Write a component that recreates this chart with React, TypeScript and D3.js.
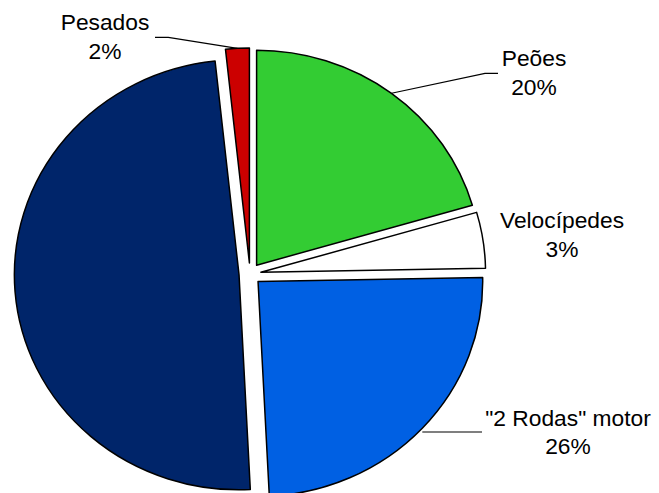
import React from "react";
import * as d3 from "d3";

// Data
const categories = ["Peões", "Velocípedes", "\"2 Rodas\" motor", "Ligeiros", "Pesados"];
const shares = [20.5, 4.2, 24.5, 49.1, 1.7]; // slice sizes as drawn
const percentLabels = ["20%", "3%", "26%", "", "2%"];
const colors = ["#33CC33", "#FFFFFF", "#0060E3", "#00256A", "#CC0000"];
const showLabel = [true, true, true, false, true];

const W = 659;
const H = 493;

export default function App() {
  const cx = 250;
  const cy = 274;
  const ry = 215;
  const sx = 1.045;
  const explode = 11;
  const fontSize = 21.5;
  const lineGap = 29;

  const pie = d3
    .pie<number>()
    .sort(null)
    .value((d) => d)
    .startAngle(0)
    .endAngle(2 * Math.PI);
  const arcs = pie(shares);
  const arcGen = d3.arc<d3.PieArcDatum<number>>().innerRadius(0).outerRadius(ry);

  // label layout: text centre x, first baseline y, optional elbow point
  const labelLayout: Record<number, { tx: number; ty: number; elbow?: [number, number]; end?: [number, number] }> = {
    0: { tx: 534, ty: 66, elbow: [485, 73.3], end: [498, 73.3] },
    1: { tx: 562, ty: 228 },
    2: { tx: 568, ty: 425.5, end: [482, 432] },
    4: { tx: 105, ty: 30, elbow: [168.3, 37.3], end: [155, 37.3] },
  };

  const slices = arcs.map((a, i) => {
    const b = (a.startAngle + a.endAngle) / 2;
    const ox = explode * Math.sin(b);
    const oy = -explode * Math.cos(b);
    const px = cx + ox;
    const py = cy + oy;
    // point on arc at bisector, in screen space
    const ax = px + ry * sx * Math.sin(b);
    const ay = py - ry * Math.cos(b);
    return { a, i, px, py, ax, ay };
  });

  return (
    <svg width={W} height={H} style={{ position: "absolute", left: 0, top: 0, background: "#fff" }}>
      <g>
        {slices.map(({ a, i, px, py }) => (
          <path
            key={i}
            d={arcGen(a) || ""}
            transform={`translate(${px},${py}) scale(${sx},1)`}
            fill={colors[i]}
            stroke="#000"
            strokeWidth={1.5}
            strokeLinejoin="round"
            vectorEffect="non-scaling-stroke"
          />
        ))}
      </g>
      <g fill="none" stroke="#000" strokeWidth={1.2}>
        {slices.map(({ i, ax, ay }) => {
          const L = labelLayout[i];
          if (!L || !L.end || !showLabel[i]) return null;
          const pts: [number, number][] = [[ax, ay]];
          if (L.elbow) pts.push(L.elbow);
          pts.push([L.end[0], L.end[1]]);
          if (!L.elbow) pts[0] = [ax, L.end[1]];
          return <path key={i} d={d3.line()(pts) || ""} />;
        })}
      </g>
      <g fontFamily="'Liberation Sans', Arial, sans-serif" fontSize={fontSize} fill="#000" textAnchor="middle">
        {slices.map(({ i }) => {
          const L = labelLayout[i];
          if (!L || !showLabel[i]) return null;
          return (
            <g key={i} transform={`translate(${L.tx},${L.ty}) scale(1.06,1)`}>
              <text x={0} y={0}>{categories[i]}</text>
              <text x={0} y={lineGap}>{percentLabels[i]}</text>
            </g>
          );
        })}
      </g>
    </svg>
  );
}
